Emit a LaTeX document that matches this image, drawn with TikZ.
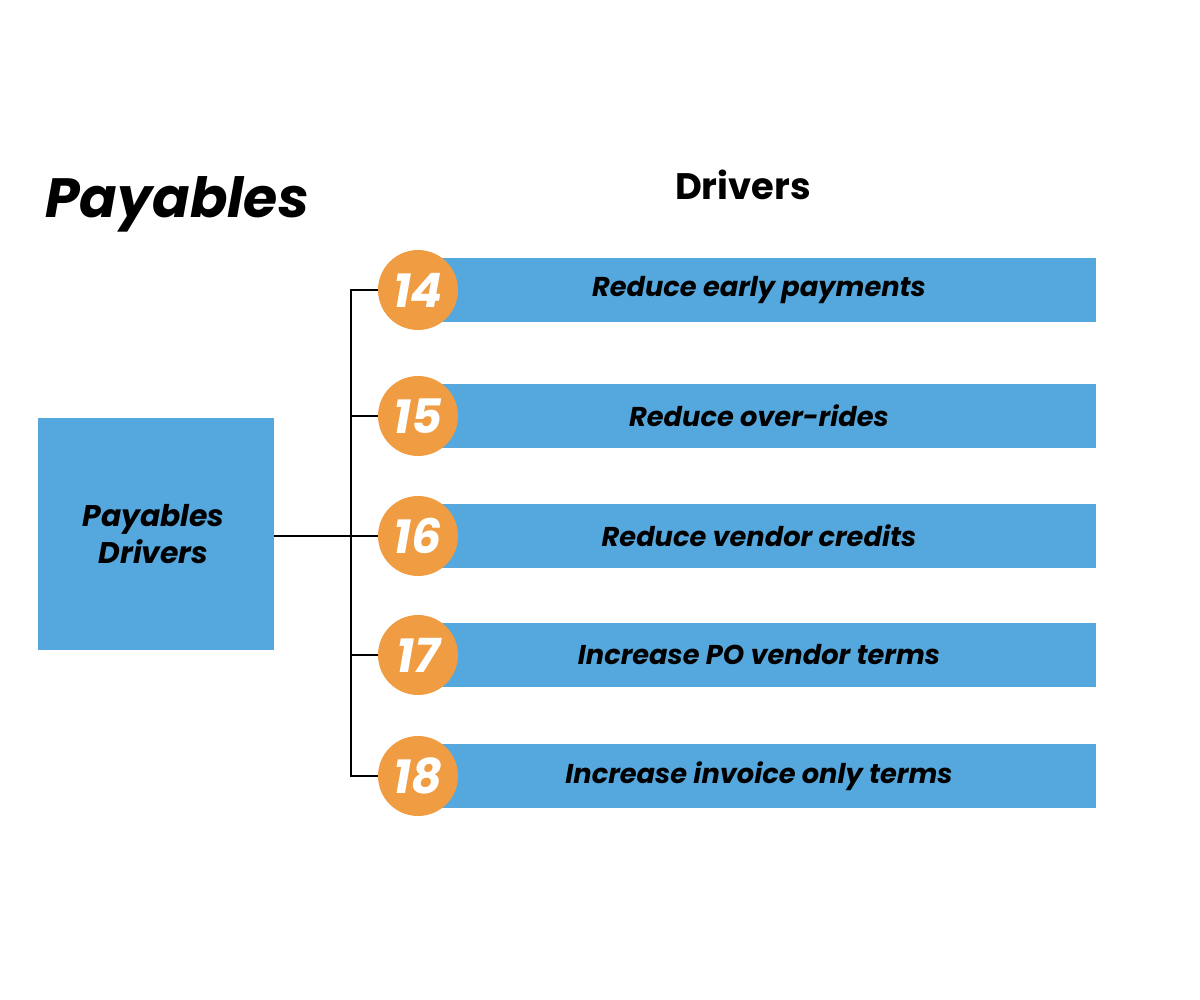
\documentclass[tikz,border=0pt]{standalone}
\usepackage{fontspec}
\setmainfont{Poppins}
\definecolor{barblue}{HTML}{55A8DD}
\definecolor{numorange}{HTML}{F09C42}
\begin{document}
\begin{tikzpicture}[x=0.02cm,y=-0.02cm,
  bar/.style={fill=barblue,draw=none,minimum width=13.18cm,minimum height=1.28cm,inner sep=0pt,
    font=\fontsize{15.5}{18}\selectfont\bfseries\itshape},
  num/.style={circle,fill=numorange,draw=none,minimum size=1.6cm,inner sep=0pt,text=white,
    font=\fontsize{27}{30}\selectfont\bfseries\itshape},
  conn/.style={line width=1.1pt,black}]
\useasboundingbox (0,0) rectangle (1200,1000);
\node[anchor=base west,font=\fontsize{31.5}{36}\selectfont\bfseries\itshape,inner sep=0pt] (title) at (45,218) {Payables};
\node[font=\fontsize{21}{25}\selectfont\bfseries] (hdr) at (743,185) {Drivers};
\node[fill=barblue,minimum width=4.72cm,minimum height=4.64cm,inner sep=0pt,align=center,
  font=\fontsize{17}{21.5}\selectfont\bfseries\itshape] (box) at (156,534) {\hspace*{-0.1cm}Payables\\\hspace*{-0.1cm}Drivers};
\foreach \n/\y/\t in {14/290/Reduce early payments,15/416/Reduce over-rides,16/536/Reduce vendor credits,17/655/Increase PO vendor terms,18/776/Increase invoice only terms}{
  \node[bar] (b\n) at (766.5,\y) {\hspace*{-0.3cm}\t};
  \node[num] (c\n) at (418,\y) {\n};
}
\coordinate (top) at (351,290);
\coordinate (bot) at (351,776);
\draw[conn] (box.east |- c16) -- (c16.west);
\draw[conn] (c14.west) -- (top) -- (bot) -- (c18.west);
\draw[conn] (top |- c15) -- (c15.west);
\draw[conn] (top |- c17) -- (c17.west);
\end{tikzpicture}
\end{document}
